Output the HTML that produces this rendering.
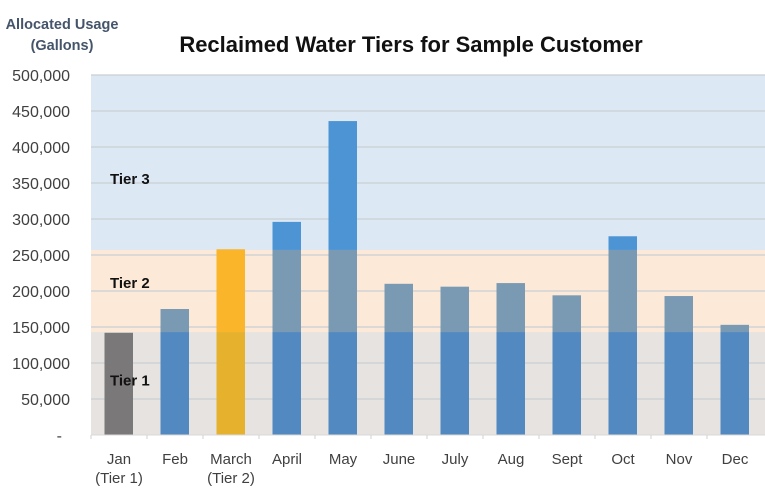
<!DOCTYPE html>
<html><head><meta charset="utf-8"><style>
html,body{margin:0;padding:0;background:#fff;width:765px;height:489px;overflow:hidden}
text{font-family:"Liberation Sans",sans-serif}
</style></head><body>
<svg id="chart" width="765" height="489" viewBox="0 0 765 489" xmlns="http://www.w3.org/2000/svg">
<text x="62" y="29" text-anchor="middle" font-size="14.5" font-weight="bold" fill="#44546a">Allocated Usage</text>
<text x="62" y="50" text-anchor="middle" font-size="14.5" font-weight="bold" fill="#44546a">(Gallons)</text>
<text x="411" y="52" text-anchor="middle" font-size="22" font-weight="bold" fill="#111">Reclaimed Water Tiers for Sample Customer</text>
<g id="bands"></g><g id="grid"></g><g id="bars"></g><g id="axes"></g>
</svg>
<script>
const categories=["Jan|(Tier 1)","Feb","March|(Tier 2)","April","May","June","July","Aug","Sept","Oct","Nov","Dec"];
const usage=[142000,175000,258000,296000,436000,210000,206000,211000,194000,276000,193000,153000];
const barKind=["gray","blue","orange","blue","blue","blue","blue","blue","blue","blue","blue","blue"];
const tierBounds=[0,143000,257000,500000];
const tierNames=["Tier 1","Tier 2","Tier 3"];
const yTicks=[0,50000,100000,150000,200000,250000,300000,350000,400000,450000,500000];
const tickLabels=["-","50,000","100,000","150,000","200,000","250,000","300,000","350,000","400,000","450,000","500,000"];

const NS="http://www.w3.org/2000/svg";
const L=91,R=763,T=75,B=435,yMax=500000;
const y=v=>B-(v/yMax)*(B-T);
const bw=(R-L)/categories.length;
const x=i=>L+i*bw;
function mk(tag,attrs,parent){const e=document.createElementNS(NS,tag);for(const k in attrs)e.setAttribute(k,attrs[k]);document.getElementById(parent).appendChild(e);return e;}
const bandFill=["#e6e3e1","#fde9d7","#dce8f4"];
const palette={gray:["#7a7878","#7a7878","#7a7878"],blue:["#5289c0","#7a9ab3","#4d94d4"],orange:["#e6b22e","#fbb52a","#fbb52a"]};
for(let t=0;t<3;t++){
  const r=mk("rect",{x:L,y:y(tierBounds[t+1]),width:R-L+2,height:y(tierBounds[t])-y(tierBounds[t+1]),fill:bandFill[t]},"bands");
  
  
}
const tierLabelVals=[80000,215000,360000];
for(let t=0;t<3;t++){
  const tx=mk("text",{x:110,y:y(tierLabelVals[t])+8,"font-size":"15","font-weight":"bold",fill:"#111"},"axes");
  tx.textContent=tierNames[t];
  
  
}
yTicks.forEach((v,i)=>{
  if(i>0){const g=mk("line",{x1:L,x2:R+2,y1:y(v),y2:y(v),stroke:"#c9ced4","stroke-width":"1.3"},"grid");
  
  }
  const t=mk("text",{x:i===0?62:70,y:y(v)+6,"text-anchor":"end","font-size":"16",fill:"#404040"},"axes");
  t.textContent=tickLabels[i];
  
  
});
usage.forEach((v,i)=>{
  const x0=x(i)+13.5,w=28.5;
  for(let t=0;t<3;t++){
    const lo=tierBounds[t],hi=Math.min(v,tierBounds[t+1]);
    if(hi<=lo)continue;
    const r=mk("rect",{x:x0,y:y(hi),width:w,height:y(lo)-y(hi),fill:palette[barKind[i]][t]},"bars");
    
    
  }
  const tk=mk("line",{x1:x(i),x2:x(i),y1:B,y2:B+4,stroke:"#d0d0d0"},"axes");
  
  
  categories[i].split('|').forEach((s,j)=>{
    const t=mk("text",{x:x(i)+bw/2,y:464+j*19,"text-anchor":"middle","font-size":"15",fill:"#404040"},"axes");
    t.textContent=s;
    
    
  });
});
const ax=mk("line",{x1:L,x2:R+2,y1:B,y2:B,stroke:"#d9d9d9"},"axes");


</script>
</body></html>
